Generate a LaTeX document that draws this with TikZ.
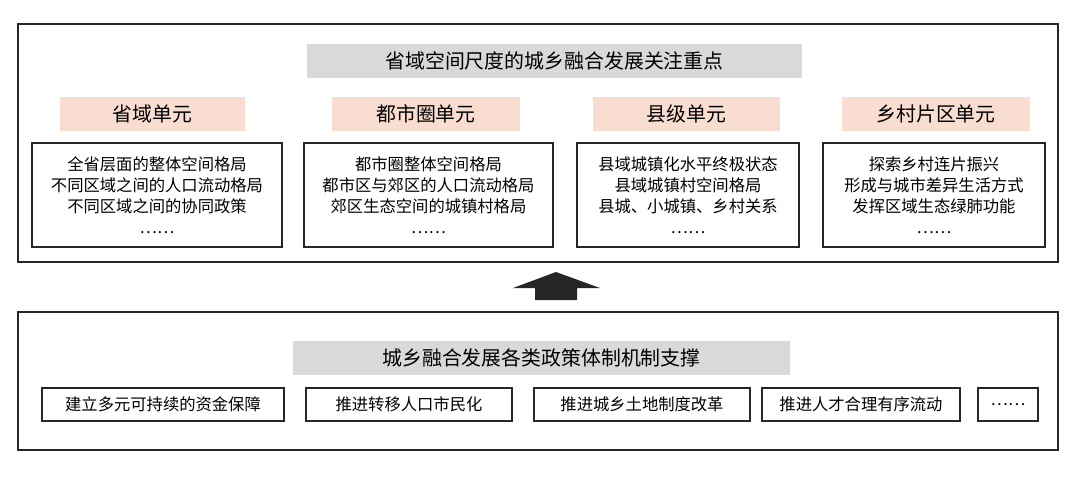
\documentclass[tikz,border=0pt]{standalone}
\usepackage{fontspec}
\setmainfont{Noto Sans CJK SC}
\definecolor{titlegray}{HTML}{D9D9D9}
\definecolor{headpink}{HTML}{F9DDD0}
\tikzset{
  frame/.style={draw=black!85, line width=1.2pt},
  titlebox/.style={fill=titlegray, font=\fontsize{15}{17}\selectfont},
  headbox/.style={fill=headpink, font=\fontsize{15}{17}\selectfont},
  textbox/.style={draw=black!85, line width=1pt, align=center, font=\fontsize{12.3}{15.8}\selectfont},
  itembox/.style={draw=black!85, line width=1pt, font=\fontsize{12.3}{14}\selectfont}
}
\begin{document}
\begin{tikzpicture}[x=0.0265cm, y=-0.0265cm]
\useasboundingbox[fill=white] (0,0) rectangle (1080,484);
% upper frame
\draw[frame] (18,24) rectangle (1058,262);
\node[titlebox, minimum width=495*0.0265cm, minimum height=34*0.0265cm] (top) at (554.5,61) {省域空间尺度的城乡融合发展关注重点};
\node[headbox, minimum width=185*0.0265cm, minimum height=34*0.0265cm] (h1) at (152.5,114) {省域单元};
\node[headbox, minimum width=188*0.0265cm, minimum height=34*0.0265cm] (h2) at (426,114) {都市圈单元};
\node[headbox, minimum width=187*0.0265cm, minimum height=34*0.0265cm] (h3) at (686.5,114) {县级单元};
\node[headbox, minimum width=188*0.0265cm, minimum height=34*0.0265cm] (h4) at (936,114) {乡村片区单元};
\node[textbox, minimum width=250*0.0265cm, minimum height=104*0.0265cm] (b1) at (157,195)
  {全省层面的整体空间格局\\不同区域之间的人口流动格局\\不同区域之间的协同政策\\……};
\node[textbox, minimum width=249*0.0265cm, minimum height=104*0.0265cm] (b2) at (428.5,195)
  {都市圈整体空间格局\\都市区与郊区的人口流动格局\\郊区生态空间的城镇村格局\\……};
\node[textbox, minimum width=222*0.0265cm, minimum height=104*0.0265cm] (b3) at (688,195)
  {县域城镇化水平终极状态\\县域城镇村空间格局\\县城、小城镇、乡村关系\\……};
\node[textbox, minimum width=222*0.0265cm, minimum height=104*0.0265cm] (b4) at (934,195)
  {探索乡村连片振兴\\形成与城市差异生活方式\\发挥区域生态绿肺功能\\……};
% arrow
\fill[black!85] (535,300) -- (535,288) -- (513,288) -- (556,272) -- (600,288) -- (577,288) -- (577,300) -- cycle;
% lower frame
\draw[frame] (18,312) rectangle (1058,450);
\node[titlebox, minimum width=497*0.0265cm, minimum height=34*0.0265cm] (bottom) at (541.5,358) {城乡融合发展各类政策体制机制支撑};
\node[itembox, minimum width=242*0.0265cm, minimum height=33*0.0265cm] (p1) at (163,404.5) {建立多元可持续的资金保障};
\node[itembox, minimum width=206*0.0265cm, minimum height=33*0.0265cm] (p2) at (409,404.5) {推进转移人口市民化};
\node[itembox, minimum width=216*0.0265cm, minimum height=33*0.0265cm] (p3) at (642,404.5) {推进城乡土地制度改革};
\node[itembox, minimum width=198*0.0265cm, minimum height=33*0.0265cm] (p4) at (861,404.5) {推进人才合理有序流动};
\node[itembox, minimum width=60*0.0265cm, minimum height=33*0.0265cm] (p5) at (1008,404.5) {……};
\end{tikzpicture}
\end{document}
